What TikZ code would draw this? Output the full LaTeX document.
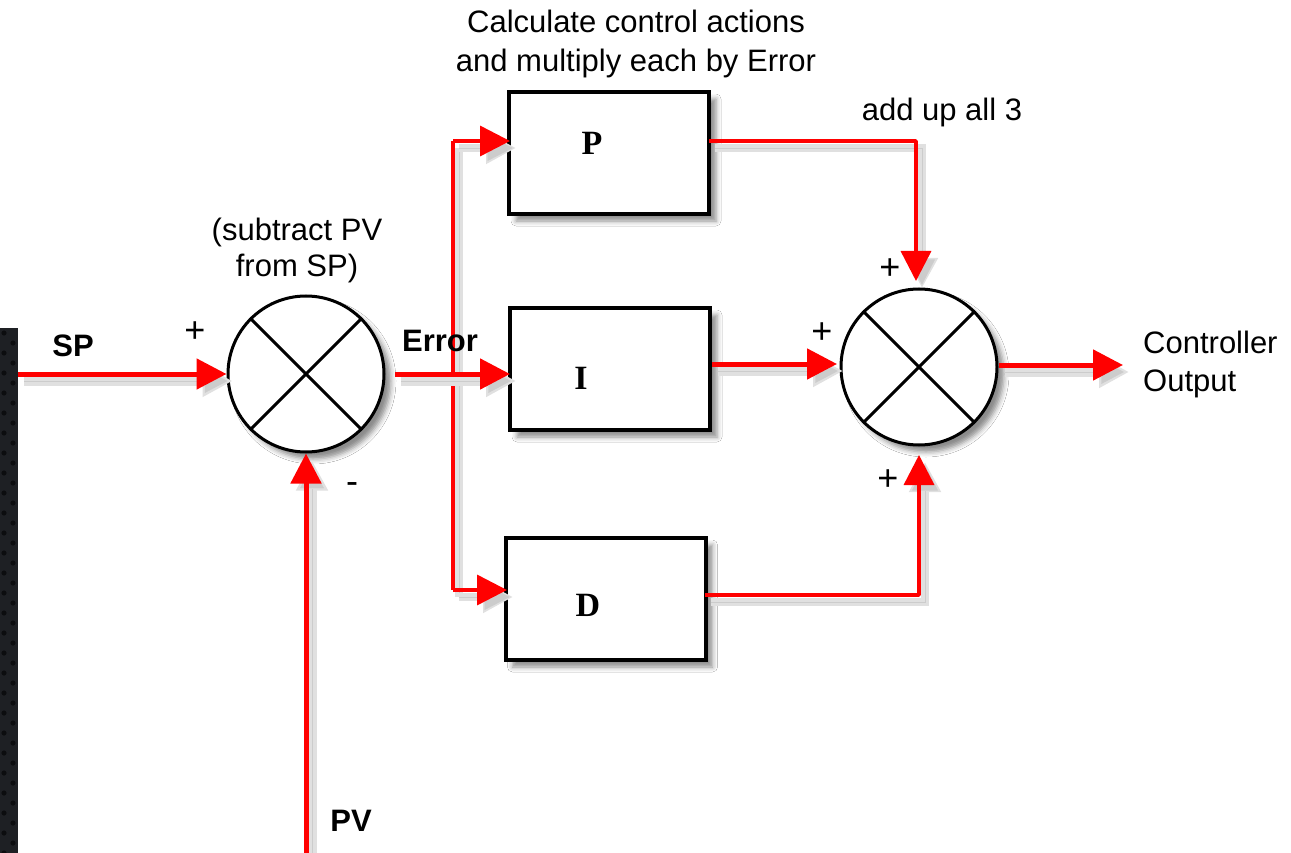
\documentclass[tikz,border=0pt]{standalone}
\usepackage{fontspec}
\setmainfont{Liberation Sans}
\newfontfamily\serifbf{Liberation Serif}
\usetikzlibrary{arrows.meta,shadows.blur}
\definecolor{sigred}{RGB}{255,0,0}
\definecolor{stripc}{RGB}{30,32,36}
\definecolor{stripd}{RGB}{12,13,15}
\tikzset{
  blk/.style={draw=black, line width=4pt, fill=white, minimum width=200pt, minimum height=122pt, inner sep=0pt,
    blur shadow={shadow xshift=7pt, shadow yshift=-7pt, shadow blur radius=5pt, shadow opacity=45}},
  sumpt/.style={circle, draw=black, line width=3pt, fill=white, minimum size=156pt, inner sep=0pt,
    blur shadow={shadow xshift=7pt, shadow yshift=-7pt, shadow blur radius=5pt, shadow opacity=45}},
  tipa/.style={-{Triangle[length=30pt,width=30pt]}},
  sig/.style={draw=sigred, line width=5pt, line join=round,
    preaction={draw=black!12, line width=9pt, transform canvas={shift={(6pt,-7pt)}}},
    preaction={draw=black!20, transform canvas={shift={(6pt,-7pt)}}}},
  sigthin/.style={draw=sigred, line width=3.5pt, line join=round,
    preaction={draw=black!12, line width=8pt, transform canvas={shift={(6pt,-7pt)}}},
    preaction={draw=black!20, transform canvas={shift={(6pt,-7pt)}}}},
  txt/.style={font=\fontsize{31}{39}\selectfont, inner sep=0pt, align=center},
  boldtxt/.style={font=\fontsize{31}{39}\selectfont\bfseries, inner sep=0pt},
  blklabel/.style={font=\serifbf\fontsize{34}{40}\selectfont\bfseries, inner sep=0pt},
  pm/.style={font=\fontsize{36}{38}\selectfont, inner sep=0pt},
}
\begin{document}
\begin{tikzpicture}[x=1pt,y=-1pt]
\useasboundingbox (0,0) rectangle (1291,853);
\fill[white] (0,0) rectangle (1291,853);
% dark strip at left edge
\fill[stripc] (0,328) rectangle (18,853);
\foreach \k in {0,...,52}{
  \pgfmathsetmacro{\yy}{333+10*\k}
  \pgfmathsetmacro{\xx}{mod(\k,2)==0 ? 4 : 13}
  \fill[stripd] (\xx,\yy) circle (2.6);
}

% texts
\node[txt] (ttop) at (636,44) {Calculate control actions\\and multiply each by Error};
\node[txt] (tadd) at (942,112) {add up all 3};
\node[txt, font=\fontsize{31}{36}\selectfont] (tsub) at (297,250) {(subtract PV\\from SP)};
\node[txt, align=left, anchor=west, font=\fontsize{31}{38}\selectfont] (tout) at (1143,364) {Controller\\Output};
\node[boldtxt] (tsp) at (73,346) {SP};
\node[boldtxt] (tpv) at (351,821) {PV};
\node[pm] (p1) at (195,332) {+};
\node[pm] (m1) at (352,488) {-};
\node[pm] (p2) at (890,269) {+};
\node[pm] (p3) at (822,333) {+};
\node[pm] (p4) at (888,480) {+};

% blocks
\node[blk] (P) at (609,153) {};
\node[blk] (I) at (610,369) {};
\node[blk] (D) at (605.5,599) {};
\node[blklabel] (Pl) at (592,143) {P};
\node[blklabel] (Il) at (581,378) {I};
\node[blklabel] (Dl) at (588,605) {D};

% summing points
\node[sumpt] (L) at (306,374) {};
\draw[line width=3pt] (L.45) -- (L.225) (L.135) -- (L.315);
\node[sumpt] (R) at (919,367) {};
\draw[line width=3pt] (R.45) -- (R.225) (R.135) -- (R.315);

% coordinates for connector ends
\coordinate (spin) at (18,374);
\coordinate (pvin) at (306,853);
\coordinate (errs) at (395,374);
\coordinate (erre) at (510,374);
\coordinate (brtop) at (453,141);
\coordinate (brbot) at (453,590);
\coordinate (pin) at (510,141);
\coordinate (din) at (507,590);
\coordinate (pout) at (709,141);
\coordinate (ptip) at (916,281);
\coordinate (iout) at (712,364);
\coordinate (itip) at (837,364);
\coordinate (dout) at (705,595);
\coordinate (dtip) at (919,455);
\coordinate (oout) at (999,365);
\coordinate (otip) at (1123,365);

% connectors
\draw[sig,tipa] (spin) -- (L.west);
\draw[sig,tipa] (pvin) -- (L.south);
\draw[sigthin] (brtop) -- (brbot);
\draw[sig,tipa] (errs) -- (erre);
\draw[sigthin,tipa] (brtop) -- (pin);
\draw[sigthin,tipa] (brbot) -- (din);
\draw[sigthin,tipa] (pout) -| (ptip);
\draw[sig,tipa] (iout) -- (itip);
\draw[sigthin,tipa] (dout) -| (dtip);
\draw[sig,tipa] (oout) -- (otip);

% Error label on top of the branch line
\node[boldtxt] (terr) at (440,341) {Error};
\end{tikzpicture}
\end{document}
